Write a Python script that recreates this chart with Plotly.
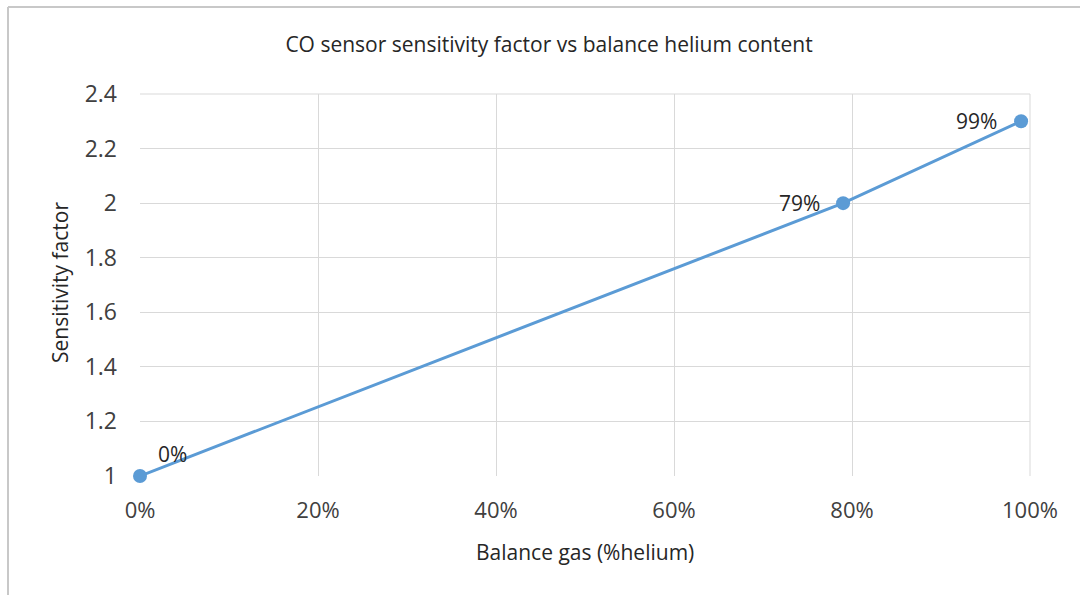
import plotly.graph_objects as go

helium = [0.0, 0.79, 0.99]
sensitivity = [1.0, 2.0, 2.3]
point_labels = ["0%", "79%", "99%"]
x_ticks = [0, 0.2, 0.4, 0.6, 0.8, 1.0]
x_tick_text = ["0%", "20%", "40%", "60%", "80%", "100%"]
y_ticks = [1, 1.2, 1.4, 1.6, 1.8, 2, 2.2, 2.4]
y_tick_text = ["1", "1.2", "1.4", "1.6", "1.8", "2", "2.2", "2.4"]

FONT = "'Open Sans', sans-serif"
L, R, T, B = 140, 50, 94, 119
PW, PH = 1080 - L - R, 595 - T - B

fig = go.Figure()
fig.add_trace(go.Scatter(
    x=helium, y=sensitivity, mode="lines+markers",
    line=dict(color="#5b9bd5", width=3),
    marker=dict(color="#5b9bd5", size=14),
    showlegend=False, cliponaxis=False,
))

# data labels
label_shift = [(32, 22), (-44, 0), (-45, 0)]
for xv, yv, txt, (dx, dy) in zip(helium, sensitivity, point_labels, label_shift):
    fig.add_annotation(x=xv, y=yv, text=txt, showarrow=False,
                       xanchor="center", yanchor="middle", xshift=dx, yshift=dy,
                       font=dict(size=21, color="#262626", family=FONT))

fig.update_layout(
    width=1080, height=595,
    margin=dict(l=L, r=R, t=T, b=B, autoexpand=False),
    paper_bgcolor="white", plot_bgcolor="white",
    font=dict(family=FONT, color="#404040"),
    title=dict(text="CO sensor sensitivity factor vs balance helium content",
               x=549/1080, xanchor="center", y=1-45/595, yanchor="middle",
               font=dict(size=21, color="#262626", family=FONT)),
    xaxis=dict(range=[0, 1], tickvals=x_ticks, ticktext=x_tick_text,
               showgrid=True, gridcolor="#d9d9d9", gridwidth=1,
               zeroline=False, showline=False, ticks="", automargin=False,
               ticklabelstandoff=19,
               tickfont=dict(size=22, color="#404040")),
    yaxis=dict(range=[1, 2.4], tickvals=y_ticks, ticktext=y_tick_text,
               showgrid=True, gridcolor="#d9d9d9", gridwidth=1,
               zeroline=False, showline=False, ticks="", automargin=False,
               ticklabelstandoff=22,
               tickfont=dict(size=23, color="#404040")),
)

# axis titles
fig.add_annotation(text="Balance gas (%helium)", xref="paper", yref="paper",
                   x=(585 - L) / PW, y=(476 - 552) / PH, xanchor="center", yanchor="middle",
                   showarrow=False, font=dict(size=21, color="#262626", family=FONT))
fig.add_annotation(text="Sensitivity factor", xref="paper", yref="paper",
                   x=(60 - L) / PW, y=(476 - 283) / PH, xanchor="center", yanchor="middle",
                   textangle=-90, showarrow=False,
                   font=dict(size=21, color="#262626", family=FONT))

# plot area frame lines (right and top gridlines)
fig.add_shape(type="line", xref="paper", yref="paper", x0=0, x1=1, y0=1, y1=1,
              line=dict(color="#d9d9d9", width=1), layer="below")
fig.add_shape(type="line", xref="paper", yref="paper", x0=1, x1=1, y0=0, y1=1,
              line=dict(color="#d9d9d9", width=1), layer="below")

# outer chart border (left and top edges visible)
bx = (8 - L) / PW
by = (476 - 7) / PH
fig.add_shape(type="line", xref="paper", yref="paper", x0=bx, x1=bx, y0=by, y1=-0.4,
              line=dict(color="#c8c8c8", width=2))
fig.add_shape(type="line", xref="paper", yref="paper", x0=bx, x1=1.1, y0=by, y1=by,
              line=dict(color="#c8c8c8", width=2))

fig.write_html("out.html", config={"displayModeBar": False},
               post_script="document.body.style.margin='0';document.body.style.padding='0';")
